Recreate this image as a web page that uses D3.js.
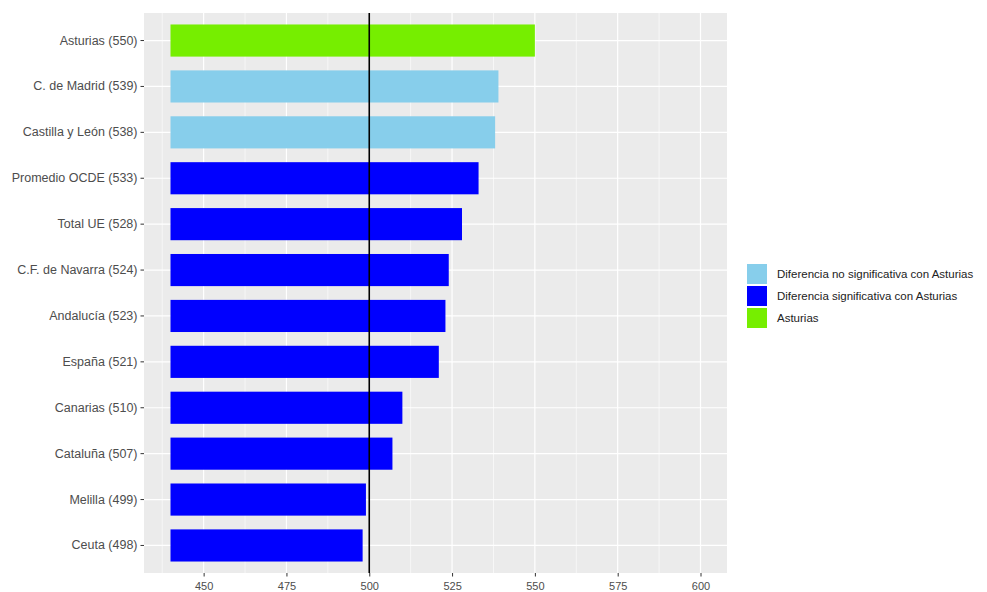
<!DOCTYPE html>
<html>
<head>
<meta charset="utf-8">
<script src="https://d3js.org/d3.v7.min.js"></script>
<style>
  body { margin: 0; background: #fff; }
  text { font-family: "Liberation Sans", Arial, sans-serif; }
</style>
</head>
<body>
<div class="canvas"></div>
<script>
var regions = ["Asturias (550)", "C. de Madrid (539)", "Castilla y León (538)", "Promedio OCDE (533)",
               "Total UE (528)", "C.F. de Navarra (524)", "Andalucía (523)", "España (521)",
               "Canarias (510)", "Cataluña (507)", "Melilla (499)", "Ceuta (498)"];
var scores = [550, 539, 538, 533, 528, 524, 523, 521, 510, 507, 499, 498];
var groups = ["ast", "nosig", "nosig", "sig", "sig", "sig", "sig", "sig", "sig", "sig", "sig", "sig"];
var xTicks = [450, 475, 500, 525, 550, 575, 600];
var xMinor = [437.5, 462.5, 487.5, 512.5, 537.5, 562.5, 587.5];
var baseline = 440, reference = 500;
var legendKeys = ["nosig", "sig", "ast"];
var legendLabels = ["Diferencia no significativa con Asturias", "Diferencia significativa con Asturias", "Asturias"];

var colors = {nosig: "#87CEEB", sig: "#0000FF", ast: "#76EE00"};

var width = 987, height = 592;
var panel = {left: 144, right: 727, top: 13, bottom: 573};

var svg = d3.select(".canvas").append("svg")
    .attr("width", width)
    .attr("height", height);

// 440..600 with 5% expansion
var x = d3.scaleLinear().domain([432, 608]).range([panel.left, panel.right]);
var y = d3.scaleBand().domain(regions)
    .range([panel.top, panel.bottom])
    .paddingInner(0.3)
    .paddingOuter(0.25);

svg.append("rect")
   .attr("x", panel.left).attr("y", panel.top)
   .attr("width", panel.right - panel.left)
   .attr("height", panel.bottom - panel.top)
   .style("fill", "#EBEBEB");

xMinor.forEach(function (v) {
    svg.append("line")
       .attr("x1", x(v)).attr("x2", x(v))
       .attr("y1", panel.top).attr("y2", panel.bottom)
       .attr("stroke", "#fff").attr("stroke-width", 0.6);
});
xTicks.forEach(function (v) {
    svg.append("line")
       .attr("x1", x(v)).attr("x2", x(v))
       .attr("y1", panel.top).attr("y2", panel.bottom)
       .attr("stroke", "#fff").attr("stroke-width", 1.2);
});
regions.forEach(function (r) {
    var cy = y(r) + y.bandwidth() / 2;
    svg.append("line")
       .attr("x1", panel.left).attr("x2", panel.right)
       .attr("y1", cy).attr("y2", cy)
       .attr("stroke", "#fff").attr("stroke-width", 1.2);
});

regions.forEach(function (r, i) {
    svg.append("rect")
       .attr("class", "bar")
       .attr("x", x(baseline))
       .attr("y", y(r))
       .attr("width", x(scores[i]) - x(baseline))
       .attr("height", y.bandwidth())
       .style("fill", colors[groups[i]]);
});

svg.append("line")
   .attr("x1", x(reference)).attr("x2", x(reference))
   .attr("y1", panel.top).attr("y2", panel.bottom)
   .attr("stroke", "#000").attr("stroke-width", 1.6);

var xAxis = svg.append("g")
   .attr("transform", "translate(0," + panel.bottom + ")")
   .call(d3.axisBottom(x).tickValues(xTicks).tickSize(3.5).tickPadding(6));
xAxis.select(".domain").remove();
xAxis.selectAll("line").attr("stroke", "#333");
xAxis.selectAll("text").attr("fill", "#4D4D4D").style("font-size", "11px");

var yAxis = svg.append("g")
   .attr("transform", "translate(" + panel.left + ",0)")
   .call(d3.axisLeft(y).tickSize(3.5).tickPadding(3));
yAxis.select(".domain").remove();
yAxis.selectAll("line").attr("stroke", "#333");
yAxis.selectAll("text").attr("fill", "#4D4D4D").style("font-size", "12.5px");

var legend = svg.append("g").attr("transform", "translate(747,264)");
legendKeys.forEach(function (k, i) {
    legend.append("rect")
       .attr("x", 0).attr("y", i * 22)
       .attr("width", 20).attr("height", 20)
       .style("fill", colors[k]);
    legend.append("text")
       .attr("x", 30).attr("y", i * 22 + 10)
       .attr("dy", "0.35em")
       .attr("fill", "#222")
       .style("font-size", "11.5px")
       .text(legendLabels[i]);
});
</script>
</body>
</html>
